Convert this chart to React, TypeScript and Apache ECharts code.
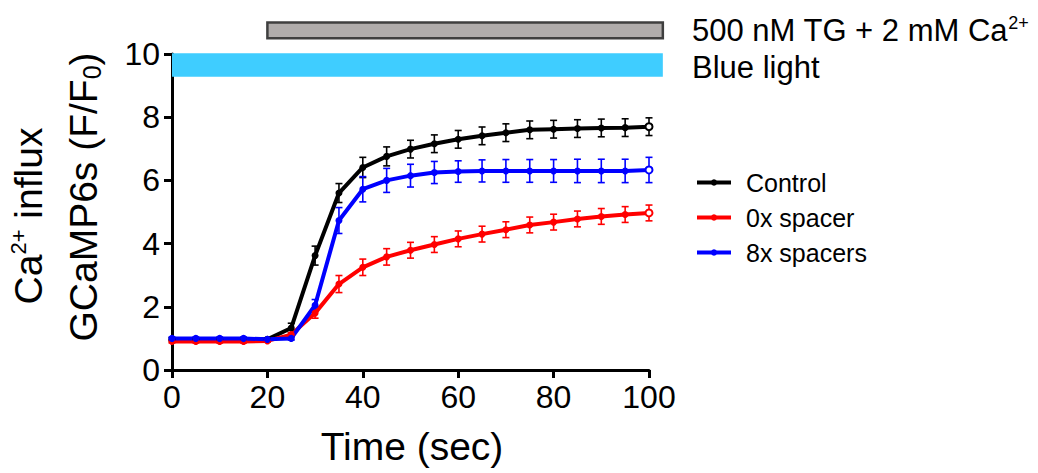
import React, { useEffect, useRef } from "react";
import * as echarts from "echarts";

const times = [0, 5, 10, 15, 20, 25, 30, 35, 40, 45, 50, 55, 60, 65, 70, 75, 80, 85, 90, 95, 100];
const controlMean = [0.97, 0.97, 0.97, 0.97, 0.97, 1.33, 3.62, 5.6, 6.41, 6.76, 6.99, 7.16, 7.3, 7.41, 7.51, 7.6, 7.62, 7.64, 7.66, 7.67, 7.7];
const controlErr = [0.05, 0.05, 0.05, 0.05, 0.05, 0.15, 0.3, 0.3, 0.32, 0.3, 0.28, 0.28, 0.28, 0.28, 0.28, 0.28, 0.28, 0.28, 0.28, 0.28, 0.28];
const zeroMean = [0.9, 0.9, 0.9, 0.9, 0.92, 1.12, 1.8, 2.72, 3.25, 3.58, 3.79, 3.97, 4.15, 4.3, 4.44, 4.59, 4.68, 4.78, 4.86, 4.92, 4.97];
const zeroErr = [0.04, 0.04, 0.04, 0.04, 0.04, 0.06, 0.16, 0.27, 0.26, 0.26, 0.25, 0.25, 0.25, 0.25, 0.25, 0.25, 0.25, 0.25, 0.25, 0.25, 0.25];
const eightMean = [1.0, 1.0, 1.0, 1.0, 0.97, 1.0, 2.05, 4.73, 5.72, 6.0, 6.15, 6.25, 6.28, 6.3, 6.3, 6.3, 6.3, 6.3, 6.3, 6.3, 6.33];
const eightErr = [0.04, 0.04, 0.04, 0.04, 0.04, 0.05, 0.18, 0.41, 0.4, 0.38, 0.36, 0.35, 0.34, 0.35, 0.36, 0.36, 0.36, 0.37, 0.37, 0.37, 0.4];

const seriesNames = ["Control", "0x spacer", "8x spacers"];
const seriesColors = ["#000000", "#ff0000", "#0000ff"];
const xTicks = [0, 20, 40, 60, 80, 100];
const yTicks = [0, 2, 4, 6, 8, 10];

// treatment bars: [startSec, endSec, yLow, yHigh]
const tgBar = [20, 102.9, 10.5, 11.0];
const lightBar = [0, 102.9, 9.28, 10.02];

const FONT = "Liberation Sans, Arial, sans-serif";

function lineData(mean: number[], color: string) {
  return times.map((t, i) =>
    i === times.length - 1
      ? { value: [t, mean[i]], itemStyle: { color: "#ffffff", borderColor: color, borderWidth: 2 } }
      : { value: [t, mean[i]] }
  );
}

function errSeries(mean: number[], err: number[], color: string) {
  return {
    type: "custom",
    name: "err-" + color,
    z: 3,
    data: times.map((t, i) => [t, mean[i], err[i]]),
    encode: { x: 0, y: 1 },
    renderItem: (params: any, api: any) => {
      const x = api.value(0);
      const m = api.value(1);
      const e = api.value(2);
      const top = api.coord([x, m + e]);
      const bot = api.coord([x, m - e]);
      const hw = 3.5;
      const st = { stroke: color, lineWidth: 1.6 };
      return {
        type: "group",
        children: [
          { type: "line", shape: { x1: top[0], y1: top[1], x2: bot[0], y2: bot[1] }, style: st },
          { type: "line", shape: { x1: top[0] - hw, y1: top[1], x2: top[0] + hw, y2: top[1] }, style: st },
          { type: "line", shape: { x1: bot[0] - hw, y1: bot[1], x2: bot[0] + hw, y2: bot[1] }, style: st },
        ],
      };
    },
  };
}

function barSeries(bar: number[], fill: string, stroke: string, lw: number) {
  return {
    type: "custom",
    name: "bar-" + fill,
    clip: false,
    z: 1,
    data: [bar],
    encode: { x: [0, 1], y: [2, 3] },
    renderItem: (params: any, api: any) => {
      const p0 = api.coord([api.value(0), api.value(3)]);
      const p1 = api.coord([api.value(1), api.value(2)]);
      return {
        type: "rect",
        shape: { x: p0[0], y: p0[1], width: p1[0] - p0[0], height: p1[1] - p0[1] },
        style: { fill, stroke: lw > 0 ? stroke : null, lineWidth: lw },
      };
    },
  };
}

export default function App() {
  const ref = useRef<HTMLDivElement>(null);
  useEffect(() => {
    if (!ref.current) return;
    const chart = echarts.init(ref.current, null, { renderer: "svg" });
    const means = [controlMean, zeroMean, eightMean];
    const errs = [controlErr, zeroErr, eightErr];
    const series: any[] = [barSeries(tgBar, "#b0acab", "#3f3f3f", 2.5), barSeries(lightBar, "#3fcdff", "", 0)];
    for (let k = 0; k < 3; k++) {
      series.push({
        type: "line",
        name: seriesNames[k],
        z: 3,
        data: lineData(means[k], seriesColors[k]),
        symbol: "circle",
        symbolSize: 7,
        showSymbol: true,
        color: seriesColors[k],
        lineStyle: { width: 4, color: seriesColors[k] },
        itemStyle: { color: seriesColors[k] },
      });
      series.push(errSeries(means[k], errs[k], seriesColors[k]));
    }
    chart.setOption({
      animation: false,
      grid: { left: 172, right: 389, top: 54, bottom: 103 },
      xAxis: {
        type: "value",
        min: 0,
        max: 100,
        interval: 20,
        axisLine: { lineStyle: { color: "#000", width: 3 } },
        axisTick: { length: 8, lineStyle: { color: "#000", width: 3 } },
        axisLabel: {
          color: "#000",
          fontFamily: FONT,
          fontSize: 32,
          margin: 11,
          formatter: (v: number) => (xTicks.includes(v) ? String(v) : ""),
        },
        splitLine: { show: false },
      },
      yAxis: {
        type: "value",
        min: 0,
        max: 10,
        interval: 2,
        axisLine: { lineStyle: { color: "#000", width: 3 } },
        axisTick: { length: 8, lineStyle: { color: "#000", width: 3 } },
        axisLabel: {
          color: "#000",
          fontFamily: FONT,
          fontSize: 32,
          margin: 12,
          formatter: (v: number) => (yTicks.includes(v) ? String(v) : ""),
        },
        splitLine: { show: false },
      },
      legend: {
        data: seriesNames,
        orient: "vertical",
        left: 690,
        top: 165,
        itemWidth: 34,
        itemHeight: 8,
        itemGap: 10,
        lineStyle: { width: 4 },
        textStyle: { fontFamily: FONT, fontSize: 25, color: "#000", padding: [0, 0, 0, 10] },
      },
      graphic: [
        {
          type: "text",
          x: 692,
          y: 30,
          style: {
            text: "{a|500 nM TG + 2 mM Ca}{s|2+}",
            verticalAlign: "middle",
            rich: {
              a: { fontFamily: FONT, fontSize: 31, fill: "#000", lineHeight: 32 },
              s: { fontFamily: FONT, fontSize: 18, fill: "#000", verticalAlign: "top", lineHeight: 18 },
            },
          },
        },
        {
          type: "text",
          x: 692,
          y: 67,
          style: { text: "Blue light", fontFamily: FONT, fontSize: 31, fill: "#000", verticalAlign: "middle" },
        },
        {
          type: "text",
          x: 412,
          y: 446,
          style: { text: "Time (sec)", fontFamily: FONT, fontSize: 39, fill: "#000", align: "center", verticalAlign: "middle" },
        },
        {
          type: "text",
          x: 28,
          y: 216,
          rotation: Math.PI / 2,
          style: {
            text: "{a|Ca}{s|2+}{a| influx}",
            align: "center",
            verticalAlign: "middle",
            rich: {
              a: { fontFamily: FONT, fontSize: 39, fill: "#000", lineHeight: 42 },
              s: { fontFamily: FONT, fontSize: 22, fill: "#000", verticalAlign: "top", lineHeight: 22 },
            },
          },
        },
        {
          type: "text",
          x: 83,
          y: 197,
          rotation: Math.PI / 2,
          style: {
            text: "{a|GCaMP6s (F/F}{b|0}{a|)}",
            align: "center",
            verticalAlign: "middle",
            rich: {
              a: { fontFamily: FONT, fontSize: 39, fill: "#000", lineHeight: 42 },
              b: { fontFamily: FONT, fontSize: 25, fill: "#000", verticalAlign: "bottom", lineHeight: 25 },
            },
          },
        },
      ],
      series,
    });
    return () => chart.dispose();
  }, []);
  return <div ref={ref} style={{ width: 1038, height: 473, position: "absolute", left: 0, top: 0 }} />;
}
